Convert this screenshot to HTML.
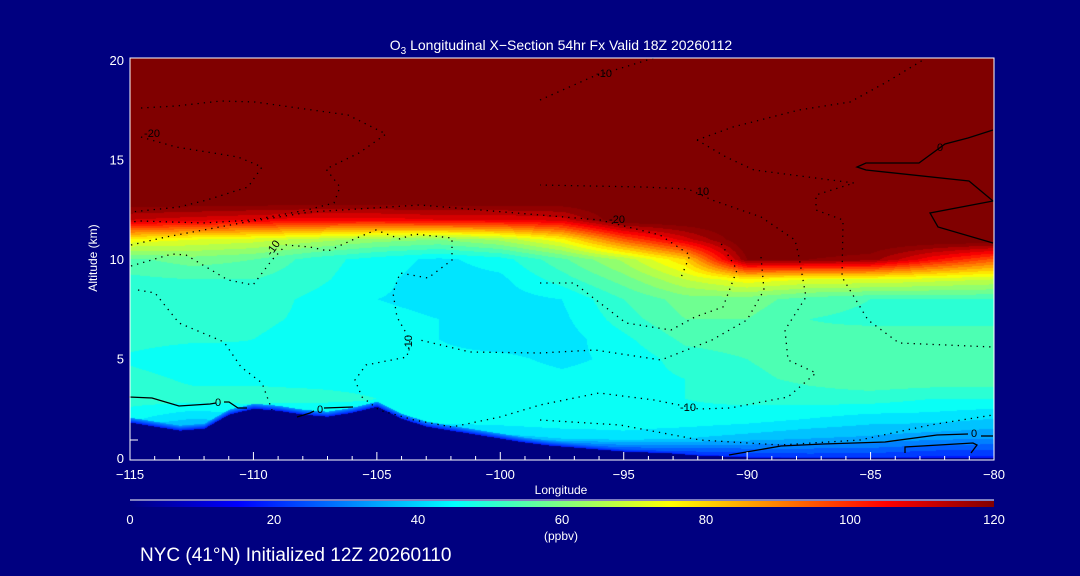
<!DOCTYPE html>
<html><head><meta charset="utf-8"><style>
html,body{margin:0;padding:0;background:#000080;}
#wrap{position:relative;width:1080px;height:576px;background:#000080;overflow:hidden;font-family:"Liberation Sans",sans-serif;color:#fff;}
canvas{position:absolute;left:130px;top:58px;}
svg{position:absolute;left:0;top:0;}
</style></head><body>
<div id="wrap">
<canvas id="field" width="864" height="402"></canvas>
<svg id="ov" width="1080" height="576"></svg>
</div>
<script>
// data
const lons = [-115,-112.5,-110,-107.5,-105,-102.5,-100,-97.5,-95,-92.5,-90,-87.5,-85,-82.5,-80];
const alts = [0,1,2,3,4,5,6,7,8,9,10,11,12,13,14,15,16,17,18,19,20];
const row0  = [0,0,0,0,0,0,0,0,10,15,18,20,20,18,18];
const row1  = [30,28,30,30,30,35,38,40,42,40,38,36,35,33,32];
const row2  = [45,40,42,40,45,47,47,48,47,47,46,44,42,42,40];
const row3  = [50,50,50,50,48,47,47,48,48,48,49,50,50,48,48];
const row4  = [50,47,47,46,46,46,46,45,46,48,51,53,55,55,55];
const row5  = [47,44,47,45,45,45,45,43,45,50,52,54,56,56,56];
const row6  = [50,49,48,46,45,44,42,42,47,53,54,53,54,54,54];
const row7  = [50,50,49,47,45,44,42,43,50,56,56,52,51,51,51];
const row8  = [51,51,50,47,44,43,42,44,52,58,58,54,52,52,52];
const row9  = [51,52,52,49,45,42,43,50,58,68,75,72,72,70,68];
const row10 = [55,58,56,50,46,43,46,55,65,80,120,120,118,105,95];
const row11 = [75,72,70,66,62,60,65,75,95,110,125,125,125,125,125];
const row12 = [112,110,108,106,106,108,108,110,125,125,125,125,125,125,125];
const rowStrat = [125,125,125,125,125,125,125,125,125,125,125,125,125,125,125];
const grid = [row0,row1,row2,row3,row4,row5,row6,row7,row8,row9,row10,row11,row12,
  rowStrat,rowStrat,rowStrat,rowStrat,rowStrat,rowStrat,rowStrat,rowStrat];
const terrainLons = [];
for (let l=-115;l<=-80;l++) terrainLons.push(l);
const terrain = [1.8,1.6,1.4,1.5,2.2,2.5,2.4,2.2,2.1,2.3,2.6,2.0,1.6,1.4,1.2,1.0,0.8,0.65,0.55,0.45,0.35,0.3,0.25,0.15,0.1,0.05,0.03,0.02,0.02,0.02,0.02,0.02,0.02,0.02,0.02,0.02];
const cbTicks = [0,20,40,60,80,100,120];
const xTicks = [-115,-110,-105,-100,-95,-90,-85,-80];
const yTicks = [0,5,10,15,20];

const X0=130,X1=994,YT=58,YB=460;
const xs = lon => X0 + (lon+115)/35*(X1-X0);
const ys = a => 458 - a*19.9;
function jet(v){const t=Math.max(0,Math.min(1,v/120));const c=x=>Math.round(255*Math.max(0,Math.min(1,x)));
 return [c(1.5-Math.abs(4*t-3)),c(1.5-Math.abs(4*t-2)),c(1.5-Math.abs(4*t-1))];}
function interp(arrX,arrY,x){if(x<=arrX[0])return arrY[0];for(let i=1;i<arrX.length;i++){if(x<=arrX[i]){const f=(x-arrX[i-1])/(arrX[i]-arrX[i-1]);return arrY[i-1]*(1-f)+arrY[i]*f;}}return arrY[arrY.length-1];}
// field
const cv=document.getElementById('field');const ctx=cv.getContext('2d');
const W=cv.width,H=cv.height;const img=ctx.createImageData(W,H);
for(let px=0;px<W;px++){
 const lon=-115+px/(W-1)*35;
 const fc=(lon+115)/2.5;const c0=Math.min(13,Math.floor(fc));const cf=fc-c0;
 const ter=interp(terrainLons,terrain,lon);
 for(let py=0;py<H;py++){
  const a=(458-(YT+py))/19.9;
  let col;
  if(a<ter){col=[0,0,128];}
  else{
   const ar=Math.max(0,Math.min(19.999,a));const r0=Math.floor(ar);const rf=ar-r0;
   const v=(grid[r0][c0]*(1-cf)+grid[r0][c0+1]*cf)*(1-rf)+(grid[r0+1][c0]*(1-cf)+grid[r0+1][c0+1]*cf)*rf;
   let vq=Math.floor(v/4)*4+2; if(a-ter<0.25) vq=Math.min(vq,18+ (a-ter)*60);
   col=jet(vq);
  }
  const k=(py*W+px)*4;img.data[k]=col[0];img.data[k+1]=col[1];img.data[k+2]=col[2];img.data[k+3]=255;
 }
}
ctx.putImageData(img,0,0);
// overlay
const NS='http://www.w3.org/2000/svg';const svg=document.getElementById('ov');
function mk(tag,at,parent){const e=document.createElementNS(NS,tag);for(const k in at)e.setAttribute(k,at[k]);(parent||svg).appendChild(e);return e;}
function txt(s,x,y,size,anchor,name){const t=mk('text',{x:x,y:y,'font-size':size,'text-anchor':anchor||'middle',fill:'#fff','font-family':'Liberation Sans, sans-serif'});t.textContent=s;return t;}
// dotted contours
const dotted=[
 [[141,108],[176,106],[221,101],[255,102],[348,115],[386,134],[359,153],[326,169],[340,187],[334,203],[307,210],[253,220],[203,223],[141,221],[131,222]],
 [[141,137],[176,147],[238,157],[262,167],[248,187],[207,200],[179,207],[131,212]],
 [[131,266],[172,254],[186,255],[228,280],[253,285],[272,260],[286,245],[310,247],[328,251],[359,237],[376,230],[400,239],[414,234],[452,238],[452,260],[428,278],[400,273],[393,293],[397,317],[410,340],[407,357],[366,365],[355,380],[362,397],[379,410],[414,420],[452,427],[500,417],[540,405],[599,393],[654,400],[699,409],[730,408],[788,397],[816,373],[788,360],[785,330],[806,297],[799,257],[795,240],[761,217],[712,200],[688,189],[643,187],[540,185]],
 [[138,290],[155,293],[179,323],[224,342],[241,367],[262,383],[272,410]],
 [[540,283],[574,283],[626,323],[671,330],[695,317],[723,307],[737,270],[719,240]],
 [[761,257],[764,290],[747,320],[712,340],[661,360],[595,350],[540,353],[470,352],[420,340]],
 [[843,223],[842,277],[868,320],[899,343],[993,347]],
 [[540,100],[592,77],[654,58]],
 [[697,140],[733,127],[799,110],[850,102],[885,83],[923,60]],
 [[697,140],[726,157],[754,170],[854,183],[816,195],[816,210],[843,220]],
 [[131,245],[166,237],[241,223],[310,212],[420,205],[540,215],[600,220],[660,235],[690,255],[680,280]],
 [[540,420],[620,425],[700,440],[780,445],[860,440],[930,425],[993,415]]
];
dotted.forEach((pts,i)=>{const p=mk('polyline',{points:pts.map(q=>q.join(',')).join(' '),fill:'none',stroke:'#000','stroke-width':1.3,'stroke-dasharray':'1.3,5'});
 
 });
const solid=[
 [[129,397],[152,398],[179,406],[210,404],[216,403]],
 [[224,402],[229,402],[238,408],[247,408]],
 [[297,417],[310,413],[314,411]],[[324,408],[353,407]],
 [[993,130],[968,138],[945,144],[919,163],[866,163],[857,167],[866,170],[969,181],[993,201],[930,213],[938,227],[993,243]],
 [[729,455],[781,446],[823,444],[885,442],[937,435],[968,434]],[[981,436],[993,436]],
 [[905,453],[905,447],[973,443],[977,445],[971,453]]
];
solid.forEach((pts,i)=>{const p=mk('polyline',{points:pts.map(q=>q.join(',')).join(' '),fill:'none',stroke:'#000','stroke-width':1.3});
 
 });
const clabels=[['-20',152,137],['0',218,406],['0',320,413],['-10',604,77],['10',703,195],['-20',617,223],['-10',688,411],['0',940,151],['0',974,437]];
clabels.forEach(l=>{const t=mk('text',{x:l[1],y:l[2],'font-size':11,'text-anchor':'middle',fill:'#000','font-family':'Liberation Sans, sans-serif'});t.textContent=l[0];
 
 });
const t1=mk('text',{x:276,y:250,'font-size':11,fill:'#000','text-anchor':'middle',transform:'rotate(-55 276 250)','font-family':'Liberation Sans, sans-serif'});t1.textContent='-10';


const t2=mk('text',{x:412,y:343,'font-size':11,fill:'#000','text-anchor':'middle',transform:'rotate(-90 412 343)','font-family':'Liberation Sans, sans-serif'});t2.textContent='-10';


// frame
const fr=mk('rect',{x:X0,y:YT,width:X1-X0,height:YB-YT,fill:'none',stroke:'#fff','stroke-width':1});


for(let l=-115;l<=-80;l++){const major=(l%5===0);const x=xs(l);
 const tk=mk('line',{x1:x,x2:x,y1:YB,y2:YB-(major?8:4),stroke:'#fff'});
 
 }
xTicks.forEach(l=>{const s=(l<0?'\u2212':'')+Math.abs(l);txt(s,xs(l),479,13,'middle','x-tick-label');});
yTicks.forEach(a=>{txt(String(a),124,ys(a)+5,13,'end','y-tick-label');});
const yt=mk('line',{x1:X0,x2:X0+8,y1:440,y2:440,stroke:'#fff'});


const title=txt('',561,50,14,'middle','chart-title');
title.innerHTML='O<tspan font-size="10" dy="4">3</tspan><tspan dy="-4"> Longitudinal X\u2212Section 54hr  Fx Valid 18Z 20260112</tspan>';
title.setAttribute('xml:space','preserve');
txt('Longitude',561,494,12,'middle','x-axis-title');
const yl=txt('Altitude (km)',97,258,12,'middle','y-axis-title');yl.setAttribute('transform','rotate(-90 97 258)');
// colorbar
const defs=mk('defs',{});const lg=mk('linearGradient',{id:'cb',x1:0,x2:1,y1:0,y2:0},defs);
for(let i=0;i<=24;i++){const c=jet(i*5);mk('stop',{offset:(i/24),'stop-color':'rgb('+c.join(',')+')'},lg);}
const cbl=mk('line',{x1:X0,x2:X1,y1:500,y2:500,stroke:'#fff'});


const cb=mk('rect',{x:X0,y:501,width:X1-X0,height:6,fill:'url(#cb)'});


cbTicks.forEach(v=>{txt(String(v),X0+v/120*(X1-X0),524,13,'middle','colorbar-tick-label');});
txt('(ppbv)',561,540,12,'middle','colorbar-units');
txt('NYC (41\u00B0N) Initialized 12Z 20260110',140,561,19,'start','footer-label');
</script>
</body></html>
